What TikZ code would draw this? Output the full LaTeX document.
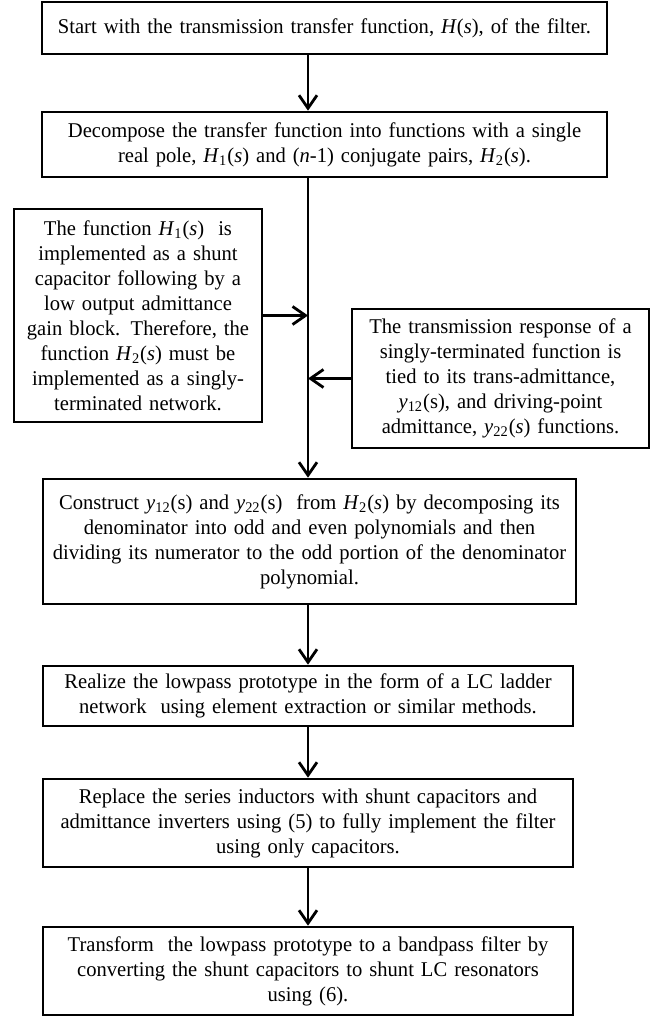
\documentclass[tikz,border=0pt]{standalone}
\usepackage{fontspec}
\setmainfont{Liberation Serif}[FakeStretch=0.98]
\usetikzlibrary{arrows.meta}
\tikzset{
  stepbox/.style={draw, line width=1.3pt, align=center, inner sep=0pt,
    font=\fontsize{10.5}{12.5}\selectfont},
  flow/.style={line width=1.3pt, -{Straight Barb[length=6.5pt,width=9pt,line width=1.4pt]}}
}
\newcommand{\Hfn}[1]{\textit{H}\textsubscript{#1}(\textit{s})}

\begin{document}
\begin{tikzpicture}[x=0.5pt,y=0.5pt,yscale=-1,xscale=1]
\useasboundingbox (0,0) rectangle (660,1016);

\coordinate (trunk) at (308,0);

\node[stepbox, minimum width=282.5pt, minimum height=26pt, text width=278pt] (start) at (324.5,28)
  {Start with the transmission transfer function, \textit{H}(\textit{s}), of the filter.};
\node[stepbox, minimum width=282.5pt, minimum height=32.5pt, text width=278pt] (decomp) at (324.5,144.5)
  {Decompose the transfer function into functions with a single\\
   real pole, \Hfn{1} and (\textit{n}-1) conjugate pairs, \Hfn{2}.};
\node[stepbox, minimum width=124pt, minimum height=106.5pt, text width=120pt] (shunt) at (138,315.5)
  {The function \Hfn{1}~ is\\ implemented as a shunt\\ capacitor following by a\\
   low output admittance\\ gain block. Therefore, the\\ function \Hfn{2} must be\\
   implemented as a singly-\\ terminated network.};
\node[stepbox, minimum width=148.5pt, minimum height=69.5pt, text width=145pt] (resp) at (500.5,378.5)
  {The transmission response of a\\ singly-terminated function is\\
   tied to its trans-admittance,\\ \textit{y}\textsubscript{12}(s), and driving-point\\
   admittance, \textit{y}\textsubscript{22}(\textit{s}) functions.};
\node[stepbox, minimum width=266.5pt, minimum height=62.5pt, text width=265pt] (construct) at (309.5,541.5)
  {Construct \textit{y}\textsubscript{12}(s) and \textit{y}\textsubscript{22}(s)~ from \Hfn{2} by decomposing its\\
   denominator into odd and even polynomials and then\\
   dividing its numerator to the odd portion of the denominator\\ polynomial.};
\node[stepbox, minimum width=265pt, minimum height=30pt, text width=262pt] (ladder) at (308,696)
  {Realize the lowpass prototype in the form of a LC ladder\\
   network~ using element extraction or similar methods.};
\node[stepbox, minimum width=265pt, minimum height=44pt, text width=262pt] (replace) at (308,823)
  {Replace the series inductors with shunt capacitors and\\
   admittance inverters using (5) to fully implement the filter\\ using only capacitors.};
\node[stepbox, minimum width=265pt, minimum height=44pt, text width=262pt] (bandpass) at (308,971)
  {Transform~ the lowpass prototype to a bandpass filter by\\
   converting the shunt capacitors to shunt LC resonators\\ using (6).};

% main flow
\draw[flow] (start.south -| trunk) -- (decomp.north -| trunk);
\draw[flow] (decomp.south -| trunk) -- (construct.north -| trunk);
\draw[flow] (construct.south -| trunk) -- (ladder.north -| trunk);
\draw[flow] (ladder.south -| trunk) -- (replace.north -| trunk);
\draw[flow] (replace.south -| trunk) -- (bandpass.north -| trunk);
% side inputs
\draw[flow] (shunt.east) -- (shunt.east -| trunk);
\draw[flow] (resp.west) -- (resp.west -| trunk);

\end{tikzpicture}
\end{document}
